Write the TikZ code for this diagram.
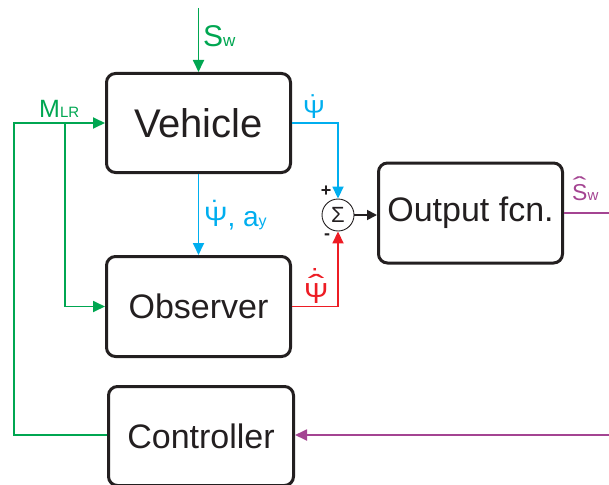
\documentclass[tikz,border=0pt]{standalone}
\usepackage{fontspec}
\usepackage{graphicx}
\setmainfont{Liberation Sans}
\usetikzlibrary{positioning,arrows.meta,calc}
\definecolor{sgGreen}{RGB}{0,166,81}
\definecolor{sgCyan}{RGB}{0,174,239}
\definecolor{sgRed}{RGB}{237,28,36}
\definecolor{sgPurple}{RGB}{164,68,146}
\definecolor{sgInk}{RGB}{35,31,32}

% dot and hat set above a letter
\newcommand{\withdot}[2][0.18em]{\leavevmode\setbox0\hbox{#2}\rlap{\hbox to\wd0{\hss\raisebox{#1}{˙}\hss}}\box0}
\newcommand{\withhat}[2][0.25em]{\leavevmode\setbox0\hbox{#2}\rlap{\hbox to\wd0{\hss\raisebox{#1}{\scalebox{1.8}[1]{ˆ}}\hss}}\box0}
\newcommand{\withhatdot}[1]{\leavevmode\setbox0\hbox{#1}\rlap{\hbox to\wd0{\hss\raisebox{0.25em}{\scalebox{1.7}[1]{ˆ}}\hss}}\rlap{\hbox to\wd0{\hss\raisebox{0.48em}{˙}\hss}}\box0}
\newcommand{\idx}[2]{{\fontsize{#1}{#1}\selectfont #2}}

\begin{document}
\begin{tikzpicture}[
    x=1pt, y=-1pt,
    sys block/.style={rectangle, rounded corners=9pt, draw=sgInk, line width=3pt, minimum width=184pt, minimum height=99pt, inner sep=0pt, text=sgInk, font=\fontsize{34}{40}\selectfont},
    sig/.style={line width=1.8pt},
    tip/.style={-{Triangle[length=12pt,width=11pt]}},
    sig label/.style={inner sep=0pt, anchor=base west}
]
  \useasboundingbox (0,0) rectangle (609,484);

  % blocks
  \node[sys block, font=\fontsize{40}{44}\selectfont] (veh) at (198.5,123) {Vehicle};
  \node[sys block, minimum height=100pt] (obs) at (198.5,306.5) {Observer};
  \node[sys block, minimum width=185pt] (ctrl) at (201,436) {Controller};
  \node[sys block, minimum height=100pt] (out) at (470.5,213) {Output fcn.};
  \node[circle, draw=sgInk, line width=0.9pt, minimum size=32pt, inner sep=0pt, text=sgInk, font=\fontsize{22}{22}\selectfont] (sum) at (338,215) {Σ};
  \node[text=sgInk, inner sep=0pt, font=\bfseries\fontsize{18}{18}\selectfont] (plus) at (326,191) {+};
  \node[text=sgInk, inner sep=0pt, font=\bfseries\fontsize{18}{18}\selectfont] (minus) at (327,237) {-};

  % steering input
  \coordinate (swin) at (198.5,8);
  \draw[sig, tip, sgGreen] (swin) -- (veh.north);
  \node[sig label, text=sgGreen, font=\fontsize{30}{30}\selectfont] (swlab) at (203,47) {S\idx{17}{w}};

  % yaw rate paths
  \draw[sig, tip, sgCyan] (veh.east) -| (sum.north);
  \node[sig label, text=sgCyan, font=\fontsize{26}{26}\selectfont] (psilab) at (303,118) {\withdot{Ψ}};
  \draw[sig, tip, sgCyan] (veh.south) -- (obs.north);
  \node[sig label, text=sgCyan, font=\fontsize{28}{28}\selectfont] (meas) at (204,226) {\withdot{Ψ}, a\idx{16}{y}};
  \draw[sig, tip, sgRed] (obs.east) -| (sum.south);
  \node[sig label, text=sgRed, font=\fontsize{29}{29}\selectfont] (est) at (304,303) {\withhatdot{Ψ}};
  \draw[sig, sgInk, -{Triangle[length=10pt,width=10pt]}] (sum.east) -- (sum.east -| out.west);

  % estimate out and back
  \coordinate (sout) at (609,213);
  \draw[sig, sgPurple] (out.east) -- (sout);
  \node[sig label, text=sgPurple, font=\fontsize{23}{23}\selectfont] (shat) at (572,200) {\withhat[0.3em]{S}\idx{15}{w}};
  \coordinate (sfb) at (609,435);
  \draw[sig, tip, sgPurple] (sfb) -- (ctrl.east |- sfb);

  % controller torque
  \coordinate (mlr) at (14,123);
  \coordinate (mbranch) at (65,123);
  \draw[sig, tip, sgGreen] (ctrl.west |- sfb) -| (mlr) -- (veh.west);
  \draw[sig, tip, sgGreen] (mbranch) |- (obs.west);
  \node[sig label, text=sgGreen, font=\fontsize{25}{25}\selectfont] (mlab) at (39,117) {M\idx{15}{LR}};
\end{tikzpicture}
\end{document}
